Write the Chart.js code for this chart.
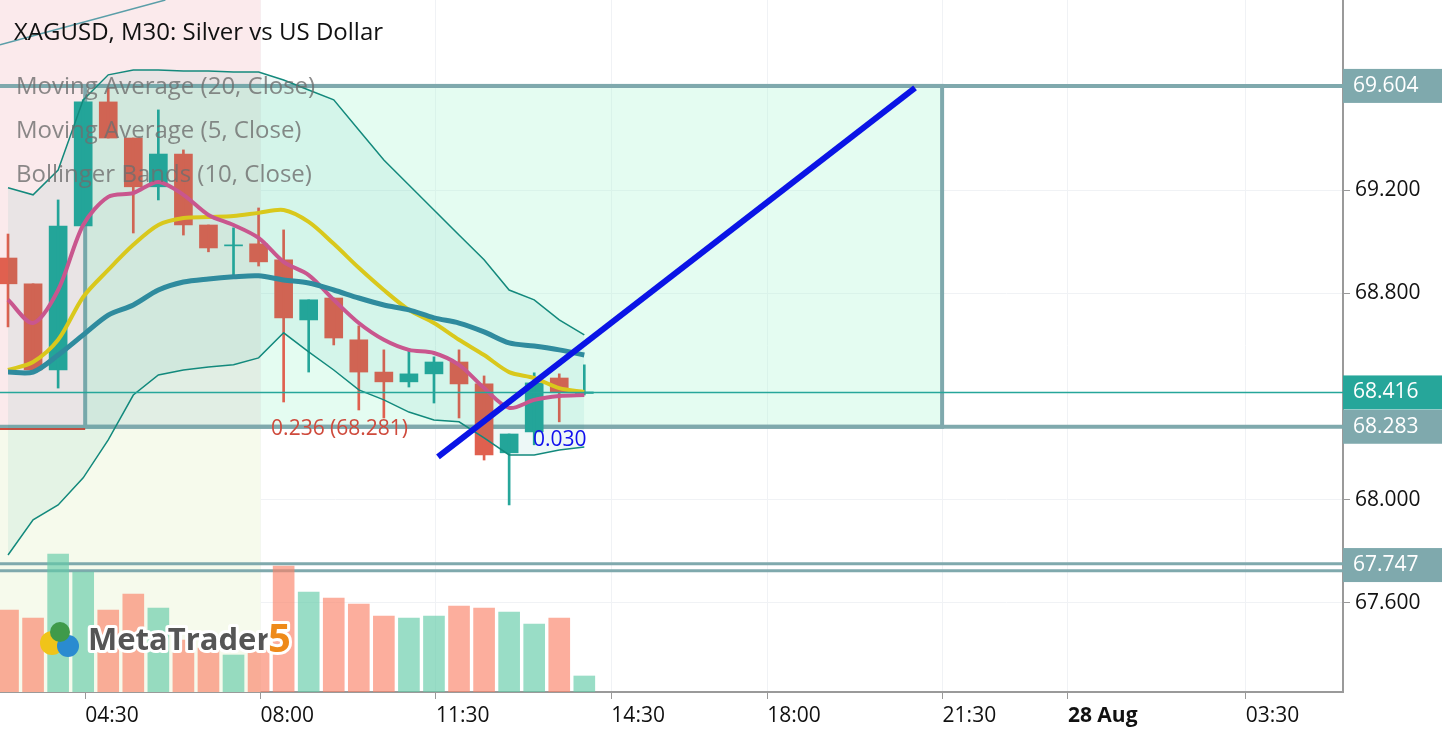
<!DOCTYPE html>
<html>
<head>
<meta charset="utf-8">
<script src="https://cdn.jsdelivr.net/npm/chart.js@4"></script>
<style>
  html, body { margin: 0; padding: 0; background: #fff; }
  #wrap { width: 1442px; height: 740px; }
</style>
</head>
<body>
<div id="wrap"><canvas id="c" width="1442" height="740"></canvas></div>
<script>
// candles, one per 30 min (index 0 = 03:00)
const opens  = [68.937,68.837,68.503,69.061,69.542,69.402,69.213,69.340,69.065,68.984,68.992,68.930,68.697,68.782,68.620,68.495,68.457,68.488,68.534,68.449,68.182,68.263,68.472,68.412]
const highs  = [69.030,68.837,69.162,69.550,69.596,69.402,69.511,69.356,69.065,69.054,69.131,69.046,68.775,68.782,68.674,68.581,68.585,68.554,68.581,68.480,68.255,68.492,68.488,68.523]
const lows   = [68.670,68.495,68.433,69.061,69.402,69.034,69.162,69.026,68.961,68.871,68.906,68.379,68.495,68.600,68.348,68.317,68.437,68.375,68.317,68.154,67.980,68.213,68.302,68.406]
const closes = [68.837,68.503,69.061,69.542,69.402,69.213,69.340,69.065,68.976,68.988,68.922,68.705,68.775,68.627,68.495,68.457,68.488,68.534,68.449,68.174,68.255,68.453,68.418,68.418]
const volumes = [82,74,138,120,82,98,84,52,44,37,42,126,100,94,88,76,74,76,86,84,80,68,74,16]

const ma20 = [68.495,68.495,68.561,68.639,68.716,68.755,68.813,68.844,68.856,68.864,68.868,68.852,68.840,68.813,68.782,68.755,68.736,68.705,68.685,68.651,68.608,68.596,68.581,68.561]
const ma5  = [68.775,68.685,68.813,69.065,69.174,69.189,69.232,69.182,69.104,69.065,69.015,68.922,68.871,68.775,68.685,68.620,68.581,68.569,68.523,68.433,68.356,68.387,68.402,68.406]
const bbMid   = [68.503,68.534,68.620,68.786,68.891,68.988,69.065,69.092,69.096,69.100,69.112,69.123,69.077,68.992,68.899,68.813,68.736,68.685,68.620,68.561,68.495,68.472,68.433,68.418]
const bbUpper = [69.209,69.182,69.278,69.550,69.647,69.666,69.666,69.662,69.662,69.658,69.658,69.627,69.588,69.550,69.433,69.317,69.220,69.123,69.026,68.930,68.813,68.775,68.697,68.639]
const bbLower = [67.786,67.922,67.980,68.085,68.232,68.406,68.484,68.503,68.515,68.523,68.550,68.647,68.573,68.503,68.426,68.387,68.340,68.309,68.302,68.240,68.174,68.174,68.193,68.205]

const timeTicks  = [3.08, 10.08, 17.08, 24.08, 30.3, 37.3, 42.3, 49.4]
const timeLabels = ['04:30','08:00','11:30','14:30','18:00','21:30','28 Aug','03:30']
const priceTicks = [69.2, 68.8, 68.0, 67.6]

// drawn objects (in candle index / price units)
const boxLevels = { x1: 3.08, x2: 37.28, top: 69.604, bottom: 68.283 }
const trendLine = { x1: 17.16, p1: 68.166, x2: 36.2, p2: 69.596 }
const oldLine = { x1: -0.32, p1: 69.763, x2: 6.28, p2: 69.937 }
const priceTags = [
  { p: 69.604, bg: '#7fa9ad' },
  { p: 68.416, bg: '#26a69a' },
  { p: 68.283, bg: '#7fa9ad' },
  { p: 67.747, bg: '#7fa9ad' }
]

const UP = '#26a69a', DOWN = '#e0604f'
const idx = opens.map((_, i) => i)
const candleCol = idx.map(i => closes[i] >= opens[i] ? UP : DOWN)
const volCol = idx.map(i => closes[i] >= opens[i] ? 'rgba(98,203,168,0.65)' : 'rgba(250,130,105,0.65)')
const FONT = '"Open Sans", "Noto Sans", sans-serif'

function line(label, arr, color, width, extra) {
  return Object.assign({
    type: 'line', label, data: idx.map(i => ({ x: i, y: arr[i] })),
    borderColor: color, borderWidth: width, pointRadius: 0, tension: 0.3, order: 0
  }, extra || {})
}

const drawings = {
  id: 'drawings',
  beforeDatasetsDraw(chart) {
    const { ctx, chartArea: a, scales: { x, y } } = chart
    ctx.save()
    const xs = x.getPixelForValue(10.08)
    const yf = y.getPixelForValue(68.283)
    ctx.fillStyle = '#fbeaec'
    ctx.fillRect(a.left, a.top, xs - a.left, yf - a.top)
    ctx.fillStyle = '#f6faec'
    ctx.fillRect(a.left, yf, xs - a.left, a.bottom - yf)
    // box
    const bx1 = x.getPixelForValue(boxLevels.x1), bx2 = x.getPixelForValue(boxLevels.x2)
    const by1 = y.getPixelForValue(boxLevels.top), by2 = y.getPixelForValue(boxLevels.bottom)
    ctx.fillStyle = 'rgba(170,245,210,0.32)'
    ctx.fillRect(bx1, by1, bx2 - bx1, by2 - by1)
    // horizontal levels
    ctx.strokeStyle = '#7fa9ad'
    ctx.lineWidth = 4
    ;[69.604, 68.283].forEach(p => {
      const yy = y.getPixelForValue(p)
      ctx.beginPath(); ctx.moveTo(a.left, yy); ctx.lineTo(a.right, yy); ctx.stroke()
    })
    ctx.lineWidth = 3
    ;[67.752, 67.725].forEach(p => {
      const yy = y.getPixelForValue(p)
      ctx.beginPath(); ctx.moveTo(a.left, yy); ctx.lineTo(a.right, yy); ctx.stroke()
    })
    ctx.lineWidth = 4
    ctx.strokeRect(bx1, by1, bx2 - bx1, by2 - by1)
    ctx.strokeStyle = '#d04a3c'
    ctx.lineWidth = 2
    const yr = y.getPixelForValue(68.274)
    ctx.beginPath(); ctx.moveTo(a.left, yr); ctx.lineTo(bx1, yr); ctx.stroke()
    ctx.strokeStyle = '#5a9ea8'
    ctx.lineWidth = 1.5
    ctx.beginPath()
    ctx.moveTo(x.getPixelForValue(oldLine.x1), y.getPixelForValue(oldLine.p1))
    ctx.lineTo(x.getPixelForValue(oldLine.x2), y.getPixelForValue(oldLine.p2))
    ctx.stroke()
    ctx.restore()
  },
  afterDatasetsDraw(chart) {
    const { ctx, chartArea: a, scales: { x, y } } = chart
    ctx.save()
    // last price line
    ctx.strokeStyle = '#26a69a'; ctx.lineWidth = 1.5
    const yl = y.getPixelForValue(68.416)
    ctx.beginPath(); ctx.moveTo(a.left, yl); ctx.lineTo(a.right, yl); ctx.stroke()
    // trend line
    ctx.strokeStyle = '#0a14e6'; ctx.lineWidth = 6; ctx.lineCap = 'butt'
    ctx.beginPath()
    ctx.moveTo(x.getPixelForValue(trendLine.x1), y.getPixelForValue(trendLine.p1))
    ctx.lineTo(x.getPixelForValue(trendLine.x2), y.getPixelForValue(trendLine.p2))
    ctx.stroke()
    // texts
    ctx.textBaseline = 'middle'
    ctx.font = '21px ' + FONT
    ctx.fillStyle = '#cf4b3d'
    ctx.fillText('0.236 (68.281)', x.getPixelForValue(10.5), y.getPixelForValue(68.273))
    ctx.fillStyle = '#1010ee'
    ctx.fillText('0.030', x.getPixelForValue(20.95), y.getPixelForValue(68.230))
    ctx.font = '24px ' + FONT
    ctx.fillStyle = '#111'
    ctx.fillText('XAGUSD, M30: Silver vs US Dollar', 14, 33)
    ctx.fillStyle = 'rgba(110,110,110,0.8)'
    ;['Moving Average (20, Close)', 'Moving Average (5, Close)', 'Bollinger Bands (10, Close)']
      .forEach((t, i) => ctx.fillText(t, 16, 87 + i * 44))
    // logo
    ctx.fillStyle = '#f0c419'; ctx.beginPath(); ctx.arc(52, 643, 12, 0, 7); ctx.fill()
    ctx.fillStyle = '#2a8bd0'; ctx.beginPath(); ctx.arc(68, 646, 11, 0, 7); ctx.fill()
    ctx.fillStyle = '#3f9a4a'; ctx.beginPath(); ctx.arc(60, 632, 10, 0, 7); ctx.fill()
    ctx.font = 'bold 31px ' + FONT
    ctx.lineWidth = 6; ctx.strokeStyle = '#fff'; ctx.lineJoin = 'round'
    ctx.strokeText('MetaTrader', 88, 641); ctx.fillStyle = '#555'; ctx.fillText('MetaTrader', 88, 641)
    ctx.font = 'bold 40px ' + FONT
    ctx.strokeText('5', 268, 641); ctx.fillStyle = '#ee8a1a'; ctx.fillText('5', 268, 641)
    // price tags
    ctx.font = '21px ' + FONT
    priceTags.forEach(t => {
      const yy = y.getPixelForValue(t.p)
      ctx.fillStyle = t.bg
      ctx.fillRect(a.right, yy - 17, 1442 - a.right, 34)
      ctx.fillStyle = '#fff'
      ctx.fillText(t.p.toFixed(3), a.right + 10, yy)
    })
    ctx.restore()
  }
}

new Chart(document.getElementById('c'), {
  data: {
    datasets: [
      line('MA20', ma20, '#2f8b9e', 5),
      line('MA5', ma5, '#c9568e', 4),
      line('BB mid', bbMid, '#d9c81c', 4),
      line('BB upper', bbUpper, '#13897c', 1.5, { fill: '+1', backgroundColor: 'rgba(0,150,136,0.07)', tension: 0 }),
      line('BB lower', bbLower, '#13897c', 1.5, { tension: 0 }),
      { type: 'bar', label: 'wick', data: idx.map(i => ({ x: i, y: [lows[i], highs[i]] })),
        backgroundColor: candleCol, barThickness: 2, grouped: false, order: 1 },
      { type: 'bar', label: 'body', data: idx.map(i => ({ x: i, y: [opens[i], closes[i]] })),
        backgroundColor: candleCol, barThickness: 18, grouped: false, order: 1 },
      { type: 'bar', label: 'volume', yAxisID: 'yv', data: idx.map(i => ({ x: i, y: volumes[i] })),
        backgroundColor: volCol, barThickness: 21, grouped: false, order: 2 }
    ]
  },
  options: {
    responsive: false,
    animation: false,
    layout: { padding: 0 },
    plugins: { legend: { display: false }, tooltip: { enabled: false } },
    scales: {
      x: {
        type: 'linear', min: -0.32, max: 53.28, offset: false,
        afterBuildTicks: s => { s.ticks = timeTicks.map(v => ({ value: v })) },
        afterFit: s => { s.height = 48; s.paddingLeft = 0; s.paddingRight = 0 },
        grid: { color: '#f0f2f5', tickLength: 7, tickColor: '#999', offset: false },
        border: { color: '#9a9a9a', width: 2 },
        ticks: {
          align: 'start', padding: 4, color: '#111',
          font: ctx => ({ family: FONT, size: 21, weight: timeLabels[ctx.index] === '28 Aug' ? 'bold' : 'normal' }),
          callback: (v, i) => timeLabels[i]
        }
      },
      y: {
        position: 'right', min: 67.255, max: 69.937,
        afterBuildTicks: s => { s.ticks = priceTicks.map(v => ({ value: v })) },
        afterFit: s => { s.width = 99; s.paddingTop = 0; s.paddingBottom = 0 },
        grid: { color: '#f0f2f5', tickLength: 7, tickColor: '#999' },
        border: { color: '#9a9a9a', width: 2 },
        ticks: { color: '#111', padding: 5, font: { family: FONT, size: 21 }, callback: v => v.toFixed(3) }
      },
      yv: { display: false, min: 0, max: 692 }
    }
  },
  plugins: [drawings]
})
</script>
</body>
</html>
